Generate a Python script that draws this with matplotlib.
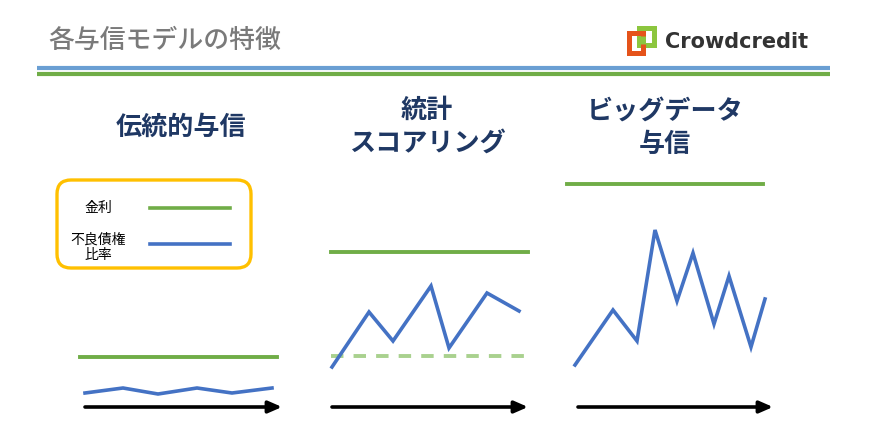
"""
Three-panel sketch: interest rate vs. bad-debt ratio for three credit models.
"""
import matplotlib
matplotlib.use("Agg")
import matplotlib.pyplot as plt
from matplotlib.patches import FancyBboxPatch, Rectangle

plt.rcParams["font.family"] = ["Noto Sans CJK JP", "DejaVu Sans"]

# ── Palette ────────────────────────────────────────────────────────────────
GREEN    = "#70AD47"
GREEN_LT = "#A9D18E"
BLUE     = "#4472C4"
HEAD_BL  = "#6A9FD3"
GRAY     = "#7A7A7A"
NAVY     = "#1F3864"
GOLD     = "#FFC000"
ORANGE   = "#E5531A"
LOGO_GR  = "#8CC63E"

# ── Data (x = time, y = level; arrow axis sits at y = 0) ───────────────────
titles = ["伝統的与信", "統計\nスコアリング", "ビッグデータ\n与信"]

rate_level = [5.0, 15.5, 22.3]          # 金利
rate_span  = [(0.5, 20.2), (0.9, 20.6), (0.2, 19.8)]
floor_level = [None, 5.1, None]        # dashed reference in panel 2

bad_x = [
    [1.0, 4.8, 8.3, 12.2, 15.7, 19.7],
    [1.0, 4.7, 7.1, 10.9, 12.7, 16.5, 19.7],
    [1.0, 4.8, 7.2, 9.0, 11.2, 12.8, 14.9, 16.4, 18.6, 20.0],
]
bad_y = [
    [1.4, 1.9, 1.3, 1.9, 1.4, 1.9],
    [4.0, 9.5, 6.6, 12.1, 5.9, 11.4, 9.6],
    [4.2, 9.7, 6.6, 17.7, 10.6, 15.4, 8.3, 13.1, 6.0, 10.8],
]
time_span = [(1.0, 20.7), (1.0, 20.6), (1.3, 20.8)]

W, H = 870, 434
fig = plt.figure(figsize=(W / 100, H / 100), dpi=100, facecolor="white")

# background axes in pixel coords for header / legend decoration
bg = fig.add_axes([0, 0, 1, 1])
bg.set_xlim(0, W)
bg.set_ylim(H, 0)
bg.axis("off")

bg.text(48, 40, "各与信モデルの特徴", fontsize=18.6, color=GRAY,
        fontweight="medium", ha="left", va="center")
bg.plot([37, 830], [68, 68], color=HEAD_BL, lw=3, solid_capstyle="butt")
bg.plot([37, 830], [73.5, 73.5], color=GREEN, lw=3, solid_capstyle="butt")

# logo: two interlocked square frames
bg.add_patch(Rectangle((639.5, 27.5), 15, 17, fill=False, ec=LOGO_GR,
                       lw=3.6, zorder=2))
bg.add_patch(Rectangle((629.5, 33), 14, 19.5, fill=False, ec=ORANGE,
                       lw=3.6, zorder=3))
bg.plot([643.5, 643.5], [36, 44], color=LOGO_GR, lw=3.6, zorder=4,
        solid_capstyle="butt")
bg.text(665, 42, "Crowdcredit", fontsize=15, fontweight="bold",
        color="#333333", ha="left", va="center", family="DejaVu Sans")

# legend box
bg.add_patch(FancyBboxPatch((57, 180), 194, 88,
                            boxstyle="round,pad=0,rounding_size=14",
                            fc="white", ec=GOLD, lw=2.4))
bg.text(98, 208, "金利", fontsize=10, ha="center", va="center")
bg.plot([150, 230], [208, 208], color=GREEN, lw=2.6)
bg.text(98, 247, "不良債権\n比率", fontsize=10, ha="center", va="center",
        linespacing=1.1)
bg.plot([150, 230], [244, 244], color=BLUE, lw=2.6)

# panel titles
title_pos = [(181, 127), (427, 127), (665, 128)]
for (tx, ty), t in zip(title_pos, titles):
    bg.text(tx, ty, t, fontsize=18.8, fontweight="bold", color=NAVY,
            ha="center", va="center", linespacing=1.3)

# ── Panels ────────────────────────────────────────────────────────────────
panel_left = [75, 322, 565]
for i in range(3):
    ax = fig.add_axes([panel_left[i] / W, (H - 420) / H, 210 / W, 260 / H])
    ax.set_xlim(0, 21)
    ax.set_ylim(-1.3, 24.7)
    ax.axis("off")

    x0, x1 = rate_span[i]
    ax.plot([x0, x1], [rate_level[i], rate_level[i]], color=GREEN, lw=2.8)
    if floor_level[i] is not None:
        ax.plot([x0, x1], [floor_level[i], floor_level[i]], color=GREEN_LT,
                lw=2.8, dashes=(3.2, 2.6))
    ax.plot(bad_x[i], bad_y[i], color=BLUE, lw=2.6, solid_joinstyle="miter")

    t0, t1 = time_span[i]
    ax.annotate("", xy=(t1, 0), xytext=(t0, 0),
                arrowprops=dict(arrowstyle="-|>,head_length=0.8,head_width=0.35",
                                color="black", lw=2.6, shrinkA=0, shrinkB=0))

fig.savefig("out.png", dpi=100, facecolor="white")
